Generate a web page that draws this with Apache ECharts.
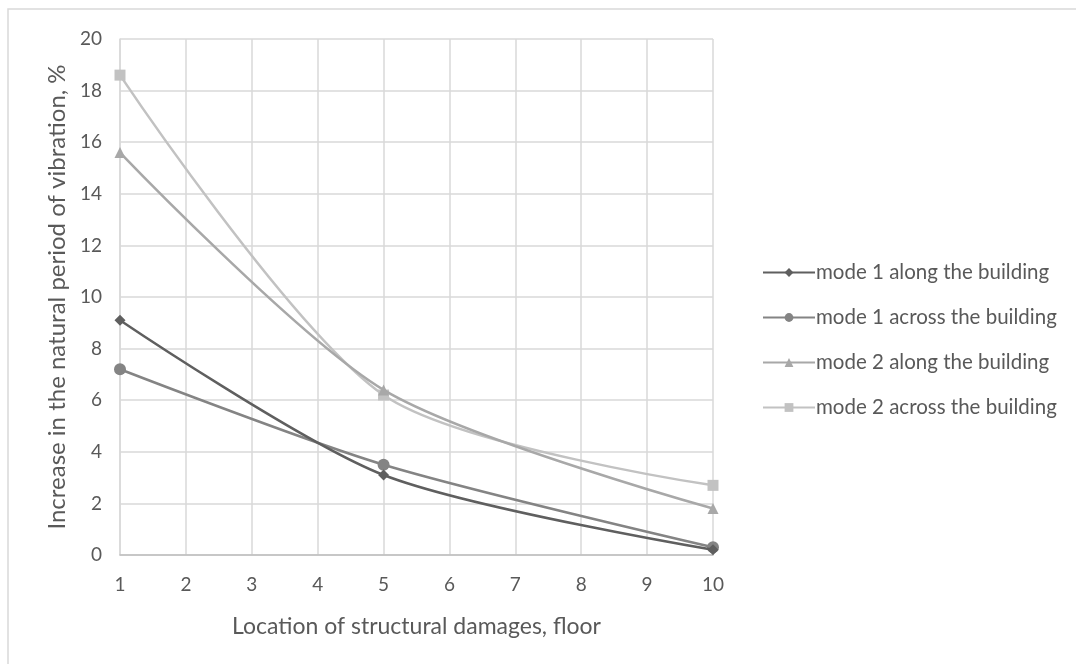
<!DOCTYPE html>
<html><head><meta charset="utf-8">
<script src="https://cdn.jsdelivr.net/npm/echarts@6/dist/echarts.min.js"></script>
<style>html,body{margin:0;padding:0;background:#fff}#c{width:1076px;height:664px}</style>
</head><body><div id="c"></div>
<script>
const floors = [1, 5, 10];
const seriesNames = ['mode 1 along the building','mode 1 across the building','mode 2 along the building','mode 2 across the building'];
const mode1Along = [9.1, 3.1, 0.2];
const mode1Across = [7.2, 3.5, 0.3];
const mode2Along = [15.6, 6.4, 1.8];
const mode2Across = [18.6, 6.2, 2.7];
const values = [mode1Along, mode1Across, mode2Along, mode2Across];
const colors = ['#5f5f5f','#848484','#a8a8a8','#c2c2c2'];
const symbols = ['diamond','circle','triangle','rect'];
const symbolSizes = [11, 12, 11, 11];
const font = 'Lato, "Open Sans", sans-serif';
const chart = echarts.init(document.getElementById('c'));
chart.setOption({
  animation:false,
  textStyle:{fontFamily:font},
  graphic:[{type:'rect',shape:{x:8,y:9,width:1100,height:700},style:{fill:'none',stroke:'#d9d9d9',lineWidth:1.5},silent:true}],
  grid:{left:120,right:363,top:39,bottom:109},
  legend:{orient:'vertical',left:757,top:257,itemGap:24,itemWidth:52,itemHeight:11,
    textStyle:{fontSize:20.5,color:'#595959',fontFamily:font,padding:[0,0,0,-4]},
    data:seriesNames},
  xAxis:{type:'value',min:1,max:10,interval:1,
    name:'Location of structural damages, floor',nameLocation:'middle',nameGap:60,
    nameTextStyle:{fontSize:23,color:'#595959'},
    axisLine:{show:true,lineStyle:{color:'#bfbfbf',width:1.5}},
    axisTick:{show:false},
    axisLabel:{fontSize:19,color:'#595959',margin:20},
    splitLine:{show:true,lineStyle:{color:'#d9d9d9',width:1.5}}},
  yAxis:{type:'value',min:0,max:20,interval:2,
    name:'Increase in the natural period of vibration, %',nameLocation:'middle',nameGap:51,
    nameTextStyle:{fontSize:24,color:'#595959'},
    axisLine:{show:true,lineStyle:{color:'#d9d9d9',width:1.5}},
    axisTick:{show:false},
    axisLabel:{fontSize:19,color:'#595959',margin:18},
    splitLine:{show:true,lineStyle:{color:'#d9d9d9',width:1.5}}},
  series: seriesNames.map((n,i)=>({
    name:n,type:'line',smooth:0.28,
    data: floors.map((f,j)=>[f, values[i][j]]),
    symbol:symbols[i],symbolSize:symbolSizes[i],
    lineStyle:{color:colors[i],width:2.5},
    itemStyle:{color:colors[i]},
    z: 10-i
  }))
});
</script></body></html>
